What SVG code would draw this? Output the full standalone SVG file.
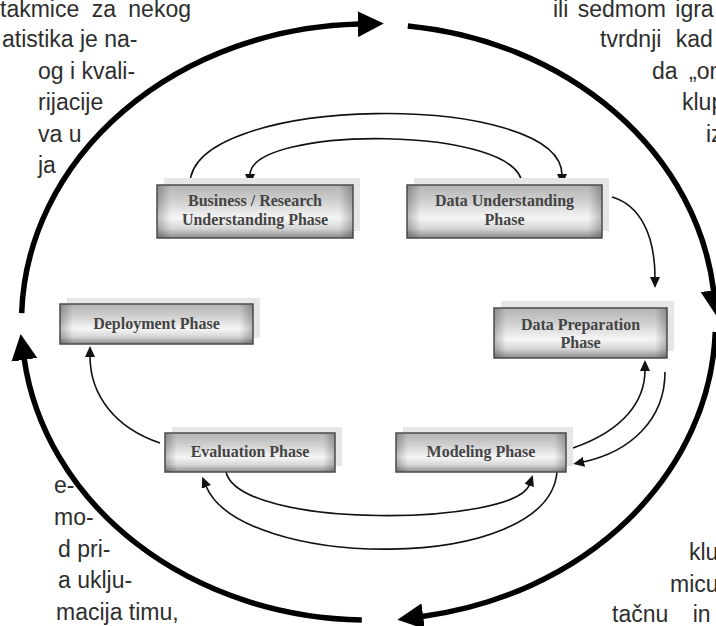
<svg xmlns="http://www.w3.org/2000/svg" width="716" height="626" viewBox="0 0 716 626">
  <defs>
    <!-- chrome-like vertical shading of the phase boxes -->
    <linearGradient id="chrome" x1="0" y1="0" x2="0" y2="1">
      <stop offset="0" stop-color="#b4b4b4"/>
      <stop offset="0.3" stop-color="#cfcfcf"/>
      <stop offset="0.62" stop-color="#f6f6f6"/>
      <stop offset="0.82" stop-color="#d6d6d6"/>
      <stop offset="1" stop-color="#8a8a8a"/>
    </linearGradient>
    <!-- darker left and right ends -->
    <linearGradient id="edgeShade" x1="0" y1="0" x2="1" y2="0">
      <stop offset="0" stop-color="#000" stop-opacity="0.25"/>
      <stop offset="0.07" stop-color="#000" stop-opacity="0"/>
      <stop offset="0.93" stop-color="#000" stop-opacity="0"/>
      <stop offset="1" stop-color="#000" stop-opacity="0.25"/>
    </linearGradient>
    <marker id="bigHead" markerUnits="userSpaceOnUse" markerWidth="28" markerHeight="26" viewBox="0 0 28 26" refX="1" refY="13" orient="auto">
      <path d="M0,0 L26,13 L0,26 z" fill="#000"/>
    </marker>
    <marker id="head" markerUnits="userSpaceOnUse" markerWidth="11" markerHeight="10" viewBox="0 0 11 10" refX="1" refY="5" orient="auto">
      <path d="M0,0 L11,5 L0,10 z" fill="#111"/>
    </marker>
  </defs>
  <style>
    .back { fill: #e6e6e6; }
    .face { fill: url(#chrome); }
    .edge { fill: url(#edgeShade); stroke: #4b4b4b; stroke-width: 1.5; }
    .box text { font-family: "Liberation Serif", "Times New Roman", serif; font-size: 16px; font-weight: bold; fill: #444; text-anchor: middle; }
    .ring { fill: none; stroke: #000; stroke-width: 5.5; marker-end: url(#bigHead); }
    .link { fill: none; stroke: #111; stroke-width: 1.6; marker-end: url(#head); }
    .page { font-family: "Liberation Sans", Arial, sans-serif; font-size: 23px; fill: #2e2e2e; }
  </style>

  <rect width="716" height="626" fill="#fff"/>

  <!-- surrounding body text -->
  <g id="page-text" class="page">
    <text x="0" y="16.5" word-spacing="6">takmice za nekog</text>
    <text x="2" y="47">atistika je na-</text>
    <text x="38" y="78.5">og i kvali-</text>
    <text x="38" y="110">rijacije</text>
    <text x="38" y="141.5">va u</text>
    <text x="38" y="173">ja</text>

    <text x="553" y="16.5" word-spacing="3">ili sedmom igra</text>
    <text x="600" y="47" word-spacing="8">tvrdnji kad</text>
    <text x="652" y="78.5" word-spacing="5">da „on</text>
    <text x="682" y="110">klup</text>
    <text x="706" y="141.5">iz</text>

    <text x="54" y="493">e-</text>
    <text x="54" y="525">mo-</text>
    <text x="58" y="556.5">d pri-</text>
    <text x="58" y="588">a uklju-</text>
    <text x="56" y="619.5">macija timu,</text>

    <text x="689" y="560">klu</text>
    <text x="670" y="591.5">micu</text>
    <text x="612" y="622" word-spacing="18">tačnu in</text>
  </g>

  <!-- outer cycle and the arrows between phases -->
  <g id="connectors">
    <path class="ring" d="M21.65,313.2 A347,298 0 0 1 358.8,24.1"/>
    <path class="ring" d="M407.8,25.9 A347,298 0 0 1 713.7,291.4"/>
    <path class="ring" d="M715.3,331.9 A347,298 0 0 1 422.2,616.4"/>
    <path class="ring" d="M361.8,619.9 A347,298 0 0 1 24.2,358.8"/>

    <path class="link" d="M190,185 C188,93 562,90 562,175"/>
    <path class="link" d="M522,185 C522,125 250,125 250,175"/>
    <path class="link" d="M612,197 C640,205 655,235 655,278"/>
    <path class="link" d="M573,448 C625,430 645,400 645,370"/>
    <path class="link" d="M665,372 C665,420 630,452 583,462"/>
    <path class="link" d="M226,472 C240,530 515,526 529.5,484.5"/>
    <path class="link" d="M557,472 C548,575 240,570 206,486"/>
    <path class="link" d="M160,443 C115,428 90,395 90,356"/>
  </g>

  <g id="business" class="box">
    <rect class="back" x="164" y="178" width="196" height="53"/>
    <rect class="face" x="157" y="185" width="196" height="53"/>
    <rect class="edge" x="157" y="185" width="196" height="53"/>
    <text x="255" y="206">Business / Research</text>
    <text x="255" y="225">Understanding Phase</text>
  </g>

  <g id="data-understanding" class="box">
    <rect class="back" x="414" y="178" width="195" height="53"/>
    <rect class="face" x="407" y="185" width="195" height="53"/>
    <rect class="edge" x="407" y="185" width="195" height="53"/>
    <text x="504.5" y="206">Data Understanding</text>
    <text x="504.5" y="225">Phase</text>
  </g>

  <g id="deployment" class="box">
    <rect class="back" x="67" y="298" width="193" height="40"/>
    <rect class="face" x="60" y="304" width="193" height="40"/>
    <rect class="edge" x="60" y="304" width="193" height="40"/>
    <text x="156.5" y="329">Deployment Phase</text>
  </g>

  <g id="data-preparation" class="box">
    <rect class="back" x="501" y="301" width="173" height="50"/>
    <rect class="face" x="494" y="308" width="173" height="50"/>
    <rect class="edge" x="494" y="308" width="173" height="50"/>
    <text x="580.5" y="330">Data Preparation</text>
    <text x="580.5" y="348">Phase</text>
  </g>

  <g id="evaluation" class="box">
    <rect class="back" x="172" y="427" width="170" height="39"/>
    <rect class="face" x="165" y="433" width="170" height="39"/>
    <rect class="edge" x="165" y="433" width="170" height="39"/>
    <text x="250" y="457">Evaluation Phase</text>
  </g>

  <g id="modeling" class="box">
    <rect class="back" x="403" y="427" width="170" height="39"/>
    <rect class="face" x="396" y="433" width="170" height="39"/>
    <rect class="edge" x="396" y="433" width="170" height="39"/>
    <text x="481" y="457">Modeling Phase</text>
  </g>
</svg>
